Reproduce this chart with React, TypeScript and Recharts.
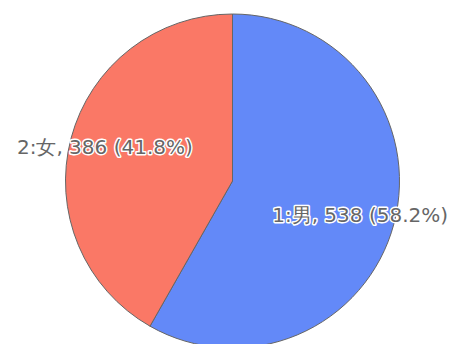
import React from "react";
import { PieChart, Pie, Cell } from "recharts";

const categories = ["1:男", "2:女"];
const values = [538, 386];
const colors = ["#6389F8", "#FA7866"];

const total = values.reduce((a, b) => a + b, 0);
const data = categories.map((name, i) => ({ name, value: values[i] }));

const RAD = Math.PI / 180;

const renderLabel = (props: any) => {
  const { cx, cy, midAngle, name, value } = props;
  const r = 132;
  const x = cx + r * Math.cos(-midAngle * RAD);
  const y = cy + r * Math.sin(-midAngle * RAD);
  const pct = ((value / total) * 100).toFixed(1);
  return (
    <text
      x={x}
      y={y}
      textAnchor="middle"
      dominantBaseline="central"
      fontFamily="DejaVu Sans, sans-serif"
      fontSize={20}
      fill="#666"
      stroke="#fff"
      strokeWidth={3}
      strokeLinejoin="round"
      paintOrder="stroke"
    >
      {`${name}, ${value} (${pct}%)`}
    </text>
  );
};

export default function App() {
  return (
    <div style={{ position: "absolute", left: 0, top: 0, width: 455, height: 344, background: "#fff" }}>
      <PieChart width={455} height={344} margin={{ top: 0, right: 0, bottom: 0, left: 0 }}>
        <Pie
          data={data}
          dataKey="value"
          nameKey="name"
          cx={232.5}
          cy={181}
          outerRadius={167}
          startAngle={90}
          endAngle={-270}
          stroke="#666"
          strokeWidth={1}
          label={renderLabel}
          labelLine={false}
          isAnimationActive={false}
        >
          {data.map((d, i) => (
            <Cell key={d.name} fill={colors[i]} />
          ))}
        </Pie>
      </PieChart>
    </div>
  );
}
